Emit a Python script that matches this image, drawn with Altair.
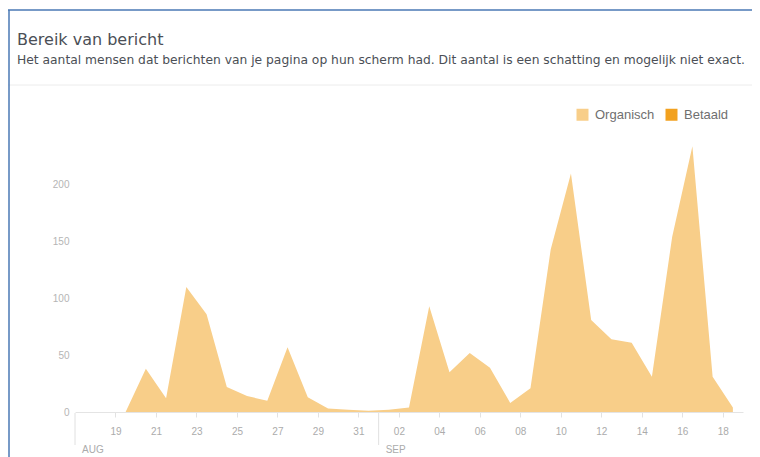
import altair as alt
import pandas as pd

# ---- data ----
dates = [
    "2017-08-17", "2017-08-18", "2017-08-19", "2017-08-20", "2017-08-21",
    "2017-08-22", "2017-08-23", "2017-08-24", "2017-08-25", "2017-08-26",
    "2017-08-27", "2017-08-28", "2017-08-29", "2017-08-30", "2017-08-31",
    "2017-09-01", "2017-09-02", "2017-09-03", "2017-09-04", "2017-09-05",
    "2017-09-06", "2017-09-07", "2017-09-08", "2017-09-09", "2017-09-10",
    "2017-09-11", "2017-09-12", "2017-09-13", "2017-09-14", "2017-09-15",
    "2017-09-16", "2017-09-17", "2017-09-18",
]
organisch = [
    0, 0, 0, 38, 12,
    110, 86, 22, 14, 10,
    57, 13, 3, 2, 1,
    2, 4, 93, 35, 52,
    39, 8, 21, 143, 210,
    81, 64, 61, 31, 154,
    234, 31, 4,
]
legend_labels = ["Organisch", "Betaald"]
legend_colors = ["#F8CE89", "#F2A11F"]
x_tick_dates = [
    "2017-08-19", "2017-08-21", "2017-08-23", "2017-08-25", "2017-08-27",
    "2017-08-29", "2017-08-31", "2017-09-02", "2017-09-04", "2017-09-06",
    "2017-09-08", "2017-09-10", "2017-09-12", "2017-09-14", "2017-09-16",
    "2017-09-18",
]
y_ticks = [0, 50, 100, 150, 200]
month_starts = ["2017-08-17", "2017-09-01"]
month_labels = ["AUG", "SEP"]
domain_start = "2017-08-17"
domain_end = "2017-09-19"

title_text = "Bereik van bericht"
subtitle_text = ("Het aantal mensen dat berichten van je pagina op hun scherm had. "
                 "Dit aantal is een schatting en mogelijk niet exact.")

FONT = "Liberation Sans"
HEAD_FONT = "DejaVu Sans"
W, H = 668, 284


def dt(s):
    y, m, d = (int(p) for p in s.split("-"))
    return alt.DateTime(year=y, month=m, date=d, utc=True)


df = pd.DataFrame({"datum": dates, "bereik": organisch, "type": legend_labels[0]})

x_scale = alt.Scale(type="utc", domain=[dt(domain_start), dt(domain_end)])

area = alt.Chart(df).transform_calculate(
    t="toDate(datum.datum) + 43200000"
).mark_area(interpolate="linear", opacity=1).encode(
    x=alt.X("t:T", scale=x_scale,
            axis=alt.Axis(values=[dt(s) for s in x_tick_dates],
                          labelExpr="utcFormat(datum.value, '%d')",
                          title=None, grid=False,
                          labelFont=FONT, labelFontSize=10, labelColor="#ababab",
                          tickColor="#e2e2e2", tickSize=5, labelPadding=9,
                          domainColor="#e4e4e4")),
    y=alt.Y("bereik:Q", scale=alt.Scale(domain=[0, 250]),
            axis=alt.Axis(values=y_ticks, title=None, grid=False, ticks=False,
                          domain=False, labelFont=FONT, labelFontSize=10,
                          labelColor="#b5b5b5", labelPadding=6)),
    color=alt.Color("type:N",
                    scale=alt.Scale(domain=legend_labels, range=legend_colors),
                    legend=alt.Legend(title=None, orient="none", legendX=501,
                                      legendY=-20, direction="horizontal",
                                      symbolType="square", symbolSize=144,
                                      symbolStrokeWidth=0, symbolOpacity=1,
                                      labelFont=FONT, labelFontSize=13,
                                      labelColor="#6f6f6f", labelOffset=6,
                                      columnPadding=10, padding=0)),
)

months = pd.DataFrame({"start": month_starts, "label": month_labels})

month_rules = alt.Chart(months).transform_calculate(
    m="toDate(datum.start)"
).mark_rule(color="#e0e0e0", strokeWidth=1).encode(
    x=alt.X("m:T", scale=x_scale),
    y=alt.value(H + 1),
    y2=alt.value(H + 33),
)

month_text = alt.Chart(months).transform_calculate(
    m="toDate(datum.start)"
).mark_text(align="left", baseline="middle", dx=7, font=FONT, fontSize=10,
            color="#ababab").encode(
    x=alt.X("m:T", scale=x_scale),
    y=alt.value(H + 38),
    text="label:N",
)

dummy = alt.Data(values=[{"k": 1}])

title_mark = alt.Chart(dummy).mark_text(
    align="left", baseline="alphabetic", font=HEAD_FONT, fontSize=16,
    color="#4b4f56").encode(
    x=alt.value(-58), y=alt.value(-83), text=alt.value(title_text))

subtitle_mark = alt.Chart(dummy).mark_text(
    align="left", baseline="alphabetic", font=HEAD_FONT, fontSize=12.3,
    color="#4b4f56").encode(
    x=alt.value(-58), y=alt.value(-64), text=alt.value(subtitle_text))

sep_line = alt.Chart(dummy).mark_rule(color="#ececec", strokeWidth=1).encode(
    x=alt.value(-67), x2=alt.value(W + 9), y=alt.value(-43))

top_blue = alt.Chart(dummy).mark_rule(color="#4a78b5", strokeWidth=1.5).encode(
    x=alt.value(-67), x2=alt.value(W + 9), y=alt.value(-118))

left_blue = alt.Chart(dummy).mark_rule(color="#4a78b5", strokeWidth=1.5).encode(
    x=alt.value(-66), y=alt.value(-118), y2=alt.value(H + 45))

chart = alt.layer(
    sep_line, top_blue, left_blue, title_mark, subtitle_mark,
    area, month_rules, month_text
).properties(
    width=W,
    height=H,
    autosize=alt.AutoSizeParams(type="none"),
    padding={"left": 67, "top": 120, "right": 9, "bottom": 45},
    background="white",
).configure_view(strokeWidth=0)

chart.save("out.html", embed_options={"renderer": "svg", "actions": False})
